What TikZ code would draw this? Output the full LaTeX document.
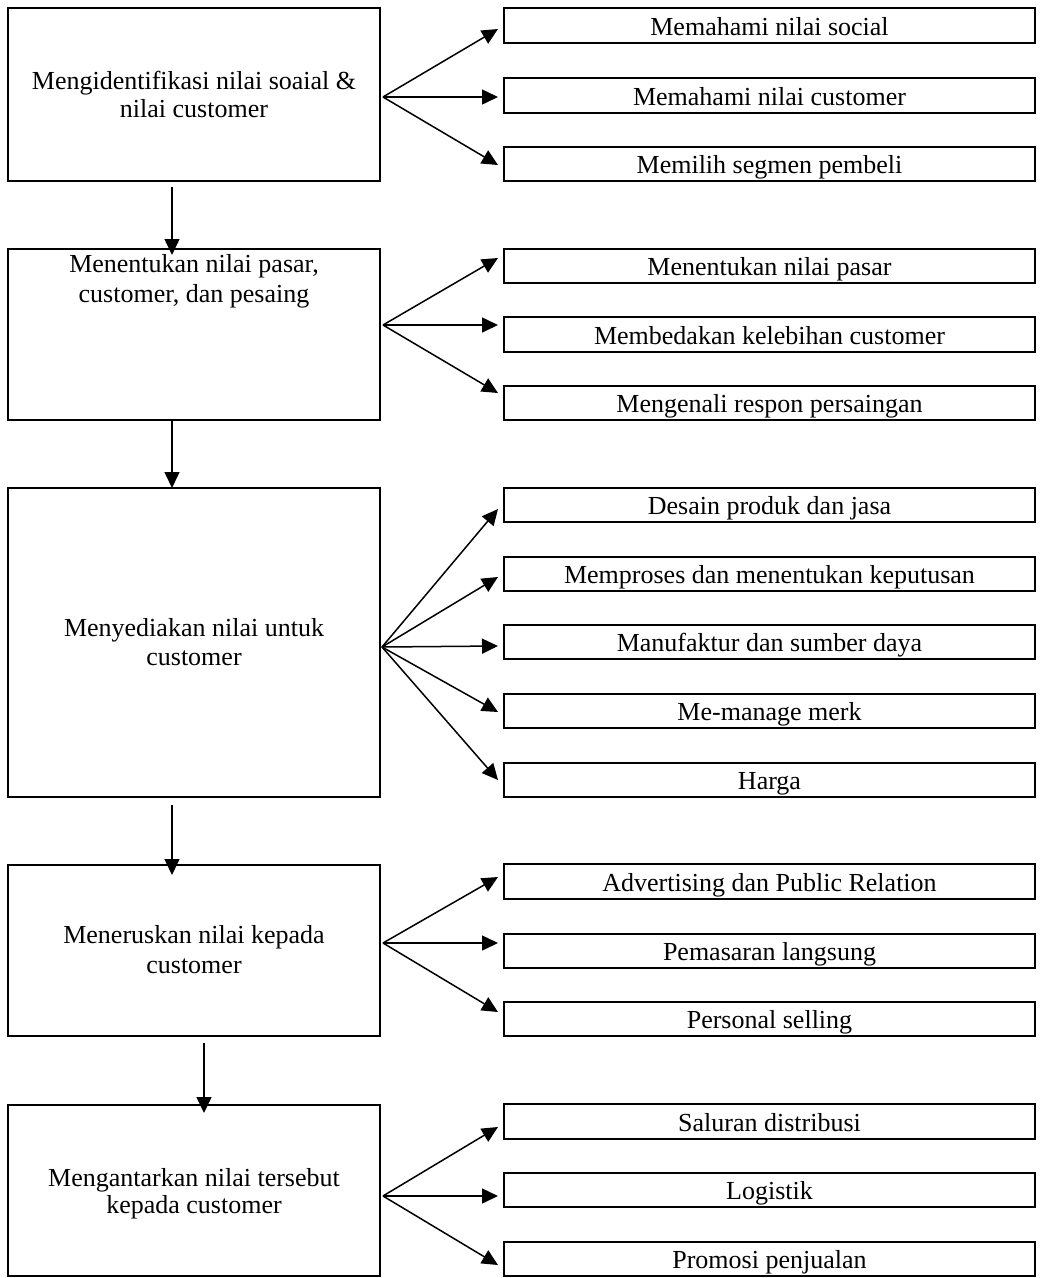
\documentclass[tikz,border=0pt]{standalone}
\usepackage{fontspec}
\setmainfont{Liberation Serif}
\usetikzlibrary{arrows.meta}
\begin{document}
\begin{tikzpicture}[x=1pt,y=-1pt,
  mainbox/.style={draw, line width=2.2pt, minimum width=372pt, inner sep=0pt},
  subbox/.style={draw, line width=2.2pt, minimum width=531pt, minimum height=34.5pt, inner sep=0pt, text height=19.5pt, text depth=0pt, font=\fontsize{26}{29}\selectfont},
  boxtext/.style={align=center, inner sep=0pt},
  arr/.style={line width=1.5pt, -{Triangle[length=16pt,width=15pt]}}
]
\useasboundingbox (0,0) rectangle (1040,1278);

% main boxes
\node[mainbox, minimum height=173pt] (b1) at (194,94.5) {};
\node[mainbox, minimum height=171pt] (b2) at (194,334.5) {};
\node[mainbox, minimum height=309pt] (b3) at (194,642.5) {};
\node[mainbox, minimum height=171pt] (b4) at (194,950.5) {};
\node[mainbox, minimum height=171pt] (b5) at (194,1190.5) {};

% main texts
\node[boxtext, font=\fontsize{26}{28}\selectfont] (t1) at (194,97.4) {\strut Mengidentifikasi nilai soaial \&\\\strut nilai customer};
\node[boxtext, font=\fontsize{26}{30}\selectfont] (t2) at (194,281) {\strut Menentukan nilai pasar,\\\strut customer, dan pesaing};
\node[boxtext, font=\fontsize{26}{29}\selectfont] (t3) at (194,644.7) {\strut Menyediakan nilai untuk\\\strut customer};
\node[boxtext, font=\fontsize{26}{30}\selectfont] (t4) at (194,952) {\strut Meneruskan nilai kepada\\\strut customer};
\node[boxtext, font=\fontsize{26}{27}\selectfont] (t5) at (194,1194.1) {\strut Mengantarkan nilai tersebut\\\strut kepada customer};

% sub boxes
\node[subbox] (r11) at (769.5,25.5) {Memahami nilai social};
\node[subbox] (r12) at (769.5,95.5) {Memahami nilai customer};
\node[subbox] (r13) at (769.5,164) {Memilih segmen pembeli};

\node[subbox] (r21) at (769.5,266) {Menentukan nilai pasar};
\node[subbox] (r22) at (769.5,334.5) {Membedakan kelebihan customer};
\node[subbox] (r23) at (769.5,403) {Mengenali respon persaingan};

\node[subbox] (r31) at (769.5,505) {Desain produk dan jasa};
\node[subbox] (r32) at (769.5,574) {Memproses dan menentukan keputusan};
\node[subbox] (r33) at (769.5,642) {Manufaktur dan sumber daya};
\node[subbox] (r34) at (769.5,711) {Me-manage merk};
\node[subbox] (r35) at (769.5,780) {Harga};

\node[subbox] (r41) at (769.5,881.5) {Advertising dan Public Relation};
\node[subbox] (r42) at (769.5,951) {Pemasaran langsung};
\node[subbox] (r43) at (769.5,1019) {Personal selling};

\node[subbox] (r51) at (769.5,1121.5) {Saluran distribusi};
\node[subbox] (r52) at (769.5,1190) {Logistik};
\node[subbox] (r53) at (769.5,1259) {Promosi penjualan};

% fan origins and tips
\coordinate (f1) at (383,97);
\coordinate (p11) at (498,29);
\coordinate (p12) at (498,97);
\coordinate (p13) at (498,165);

\coordinate (f2) at (383,325);
\coordinate (p21) at (498,258);
\coordinate (p22) at (498,325);
\coordinate (p23) at (498,393);

\coordinate (f3) at (382,647);
\coordinate (p31) at (498,509);
\coordinate (p32) at (498,577);
\coordinate (p33) at (498,646);
\coordinate (p34) at (498,712);
\coordinate (p35) at (498,780);

\coordinate (f4) at (383,943);
\coordinate (p41) at (498,877);
\coordinate (p42) at (498,943);
\coordinate (p43) at (498,1012);

\coordinate (f5) at (383,1196);
\coordinate (p51) at (498,1127);
\coordinate (p52) at (498,1196);
\coordinate (p53) at (498,1265);

\foreach \g/\n in {1/3,2/3,3/5,4/3,5/3}{
  \foreach \k in {1,...,\n}{
    \draw[arr] (f\g) -- (p\g\k);
  }
}

% vertical arrows
\coordinate (v1s) at (172,187);
\coordinate (v1e) at (172,255);
\coordinate (v2s) at (172,420);
\coordinate (v2e) at (172,488);
\coordinate (v3s) at (172,805);
\coordinate (v3e) at (172,875);
\coordinate (v4s) at (204,1043);
\coordinate (v4e) at (204,1113);
\draw[arr] (v1s) -- (v1e);
\draw[arr] (v2s) -- (v2e);
\draw[arr] (v3s) -- (v3e);
\draw[arr] (v4s) -- (v4e);
\end{tikzpicture}
\end{document}
